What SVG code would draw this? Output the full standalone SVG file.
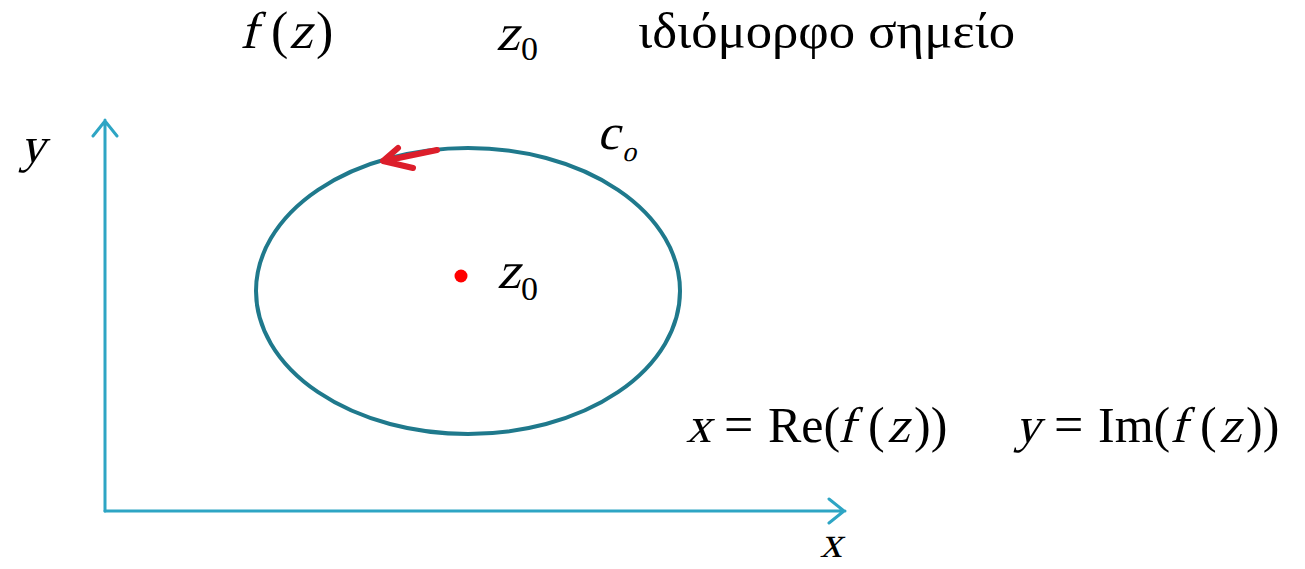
<svg xmlns="http://www.w3.org/2000/svg" width="1305" height="569" viewBox="0 0 1305 569">
<style>
text{font-family:"Liberation Serif","Times New Roman",serif;fill:#000}
.axis{stroke:#2EA5C4;stroke-width:3;fill:none;stroke-linecap:round;stroke-linejoin:round}
</style>
<rect width="1305" height="569" fill="#fff"/>
<g id="title" font-size="52">
<text transform="translate(240,48) skewX(-14)">f</text>
<text x="271" y="48">(</text>
<text transform="translate(289,48) skewX(-14)">z</text>
<text x="316" y="48">)</text>
<text transform="translate(496,50) skewX(-14)">z</text>
<text x="521" y="60" font-size="34">0</text>
<text x="638" y="48" font-size="50" textLength="377" lengthAdjust="spacingAndGlyphs">ιδιόμορφο σημείο</text>
</g>
<g id="connectors">
<path class="axis" d="M105 511 V120 M93 136 L105 121 L117 136"/>
<path class="axis" d="M105 511 H845 M829 499 L844 511 L829 523"/>
<ellipse cx="468" cy="291" rx="212" ry="143" fill="none" stroke="#1F798C" stroke-width="4"/>
<path d="M437 150 L384 161 M398 148 L383 161 L413 168" fill="none" stroke="#DC1E2B" stroke-width="6" stroke-linecap="round" stroke-linejoin="round"/>
</g>
<g id="z0-point">
<circle cx="461" cy="276" r="6.5" fill="#FF0000"/>
<text transform="translate(497,288) skewX(-14)" font-size="52">z</text>
<text x="521" y="300" font-size="34">0</text>
</g>
<g id="labels">
<text transform="translate(20,162) skewX(-14)" font-size="50">y</text>
<text transform="translate(820,557) skewX(-14)" font-size="44">x</text>
<text transform="translate(597,149) skewX(-14)" font-size="50">c</text>
<text transform="translate(622,161) skewX(-14)" font-size="28">o</text>
</g>
<g id="formula" font-size="50">
<text transform="translate(686,442) skewX(-14)">x</text>
<text x="724" y="442" font-size="52">=</text>
<text x="768" y="442">Re(</text>
<text transform="translate(838,442) skewX(-14)">f</text>
<text x="868" y="442">(</text>
<text transform="translate(887,442) skewX(-14)">z</text>
<text x="914" y="442">))</text>
<text transform="translate(1015,442) skewX(-14)">y</text>
<text x="1054" y="442" font-size="52">=</text>
<text x="1098" y="442">Im(</text>
<text transform="translate(1170,442) skewX(-14)">f</text>
<text x="1200" y="442">(</text>
<text transform="translate(1219,442) skewX(-14)">z</text>
<text x="1246" y="442">))</text>
</g>
</svg>
